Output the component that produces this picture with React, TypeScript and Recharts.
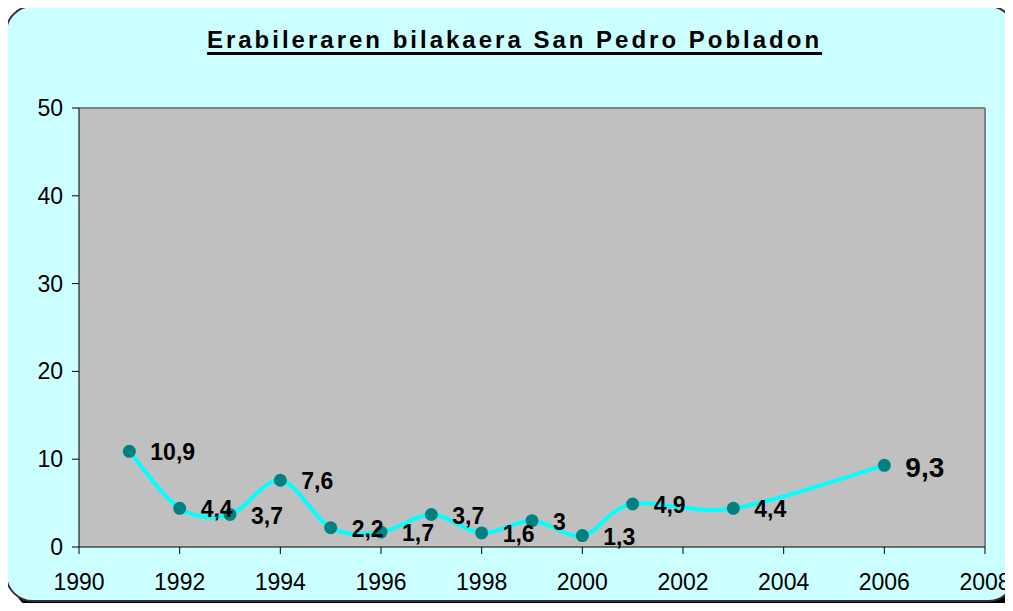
import React from 'react';
import { LineChart, Line, XAxis, YAxis, CartesianGrid, ReferenceLine, LabelList } from 'recharts';

const years = [1991, 1992, 1993, 1994, 1995, 1996, 1997, 1998, 1999, 2000, 2001, 2003, 2006];
const values = [10.9, 4.4, 3.7, 7.6, 2.2, 1.7, 3.7, 1.6, 3, 1.3, 4.9, 4.4, 9.3];
const xTicks = [1990, 1992, 1994, 1996, 1998, 2000, 2002, 2004, 2006, 2008];
const yTicks = [0, 10, 20, 30, 40, 50];

const data = years.map((year, i) => ({ year, value: values[i] }));

const FONT = '"Liberation Sans", Arial, sans-serif';

// Excel-like smoothed line (Catmull-Rom as cubic beziers)
const smoothCurve = (context: any) => {
  let pts: number[][] = [];
  return {
    areaStart() {},
    areaEnd() {},
    lineStart() {
      pts = [];
    },
    point(x: number, y: number) {
      pts.push([+x, +y]);
    },
    lineEnd() {
      if (!pts.length) return;
      context.moveTo(pts[0][0], pts[0][1]);
      for (let i = 0; i < pts.length - 1; i++) {
        const p0 = pts[i - 1] || pts[i];
        const p1 = pts[i];
        const p2 = pts[i + 1];
        const p3 = pts[i + 2] || p2;
        context.bezierCurveTo(
          p1[0] + (p2[0] - p0[0]) / 6,
          p1[1] + (p2[1] - p0[1]) / 6,
          p2[0] - (p3[0] - p1[0]) / 6,
          p2[1] - (p3[1] - p1[1]) / 6,
          p2[0],
          p2[1]
        );
      }
    },
  };
};

const XTick = ({ x, y, payload }: any) => (
  <text x={x} y={y} textAnchor="middle" dominantBaseline="central" fontSize={23} fontFamily={FONT} fill="#000">
    {payload.value}
  </text>
);

const YTick = ({ x, y, payload }: any) => (
  <text x={x} y={y} textAnchor="end" dominantBaseline="central" fontSize={23} fontFamily={FONT} fill="#000">
    {payload.value}
  </text>
);

const PointLabel = ({ x, y, value, index }: any) => {
  const last = index === values.length - 1;
  return (
    <text
      x={x + 21}
      y={y + (last ? 2 : 1)}
      dominantBaseline="central"
      fontSize={last ? 28 : 23}
      fontWeight="bold"
      fontFamily={FONT}
      fill="#000"
    >
      {String(value).replace('.', ',')}
    </text>
  );
};

export default function App() {
  return (
    <div style={{ position: 'relative', width: 1013, height: 611, overflow: 'hidden', margin: -8 }}>
      <div
        style={{
          position: 'absolute',
          left: 5,
          top: 5,
          width: 1007,
          height: 593,
          border: '2px solid #333',
          borderRadius: 28,
          background: '#CCFFFF',
          boxShadow: '9px 9px 0 #000',
        }}
      />
      <div
        style={{
          position: 'absolute',
          left: 0,
          top: 26,
          width: 1029,
          textAlign: 'center',
          fontFamily: FONT,
          fontWeight: 'bold',
          fontSize: 24,
          lineHeight: 'normal',
          letterSpacing: 3,
          textDecoration: 'underline',
          textUnderlineOffset: 4,
          textDecorationThickness: 3,
          color: '#000',
        }}
      >
        Erabileraren bilakaera San Pedro Pobladon
      </div>
      <div style={{ position: 'absolute', left: 0, top: 0 }}>
        <LineChart width={1013} height={611} data={data} margin={{ top: 108, right: 28, left: 19, bottom: 24 }}>
          <CartesianGrid fill="#C0C0C0" horizontal={false} vertical={false} />
          <ReferenceLine y={50} stroke="#808080" strokeWidth={2} />
          <ReferenceLine x={2008} stroke="#808080" strokeWidth={2} />
          <XAxis
            dataKey="year"
            type="number"
            domain={[1990, 2008]}
            ticks={xTicks}
            interval={0}
            height={40}
            tickSize={7}
            tickMargin={28}
            stroke="#000"
            tick={<XTick />}
          />
          <YAxis
            type="number"
            domain={[0, 50]}
            ticks={yTicks}
            interval={0}
            width={60}
            tickSize={7}
            tickMargin={9}
            stroke="#000"
            tick={<YTick />}
          />
          <Line
            dataKey="value"
            type={smoothCurve as any}
            stroke="#00FFFF"
            strokeWidth={4}
            dot={{ r: 6.5, fill: '#008080', stroke: 'none' }}
            activeDot={false}
            isAnimationActive={false}
          >
            <LabelList dataKey="value" content={<PointLabel />} />
          </Line>
        </LineChart>
      </div>
    </div>
  );
}
